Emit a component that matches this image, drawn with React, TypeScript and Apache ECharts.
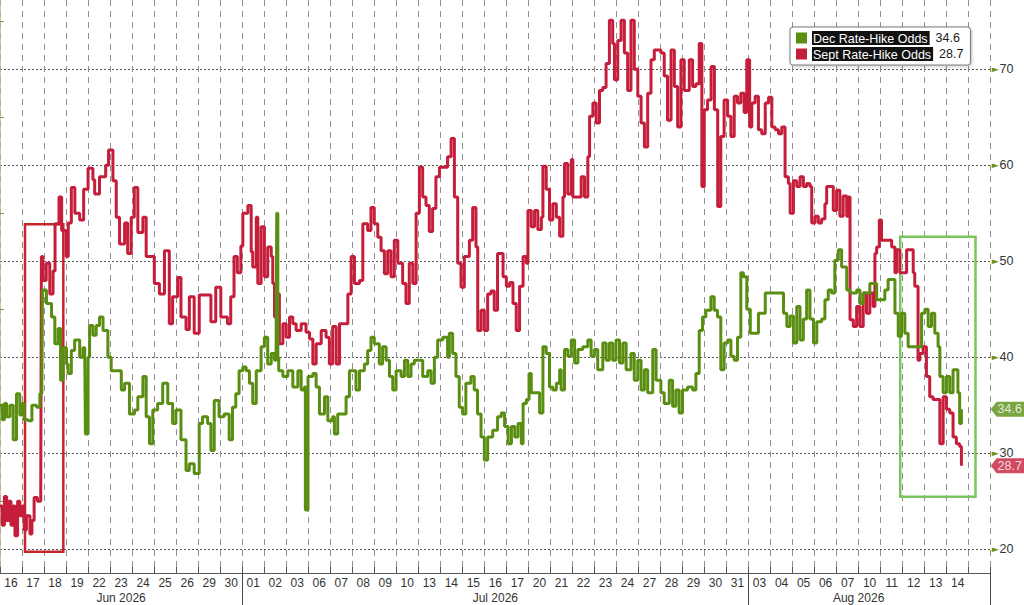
import React, { useEffect, useRef } from 'react';
import * as echarts from 'echarts';

// ---------- data ----------
const dayLabels = ['16','17','18','19','22','23','24','25','26','29','30','01','02','03','06','07','08','09','10','13','14','15','16','17','20','21','22','23','24','27','28','29','30','31','03','04','05','06','07','10','11','12','13','14',''];
const monthLabels: [number, string][] = [[5.5, 'Jun 2026'], [22.5, 'Jul 2026'], [39, 'Aug 2026']];
const monthStarts = [11, 34];

const DEC_NAME = 'Dec Rate-Hike Odds';
const SEPT_NAME = 'Sept Rate-Hike Odds';

// [trading-day position, odds %]
const septOdds: [number, number][] = [
[0,24.5],[0.1,22.5],[0.2,25.5],[0.3,23],[0.4,25],[0.5,22.5],[0.6,24.5],[0.68,21.4],[0.8,25],[0.9,23.5],[1.0,24.5],[1.1,22],[1.2,23.5],[1.36,21.6],[1.45,23],[1.55,25.4],[1.7,25],[1.85,25.5],[1.88,50.5],[1.95,48],[2.1,49.8],[2.26,46.6],[2.41,49],[2.5,53.9],[2.68,56.7],[2.8,53.2],[3.0,50.5],[3.1,54],[3.24,57.7],[3.4,55],[3.62,54.3],[3.8,57.5],[4.0,59.7],[4.22,58.5],[4.3,57],[4.52,58.8],[4.8,60],[4.93,61.6],[5.13,58.4],[5.28,54.6],[5.43,51.8],[5.66,54],[5.8,50.8],[5.96,54.6],[6.1,57.7],[6.26,53],[6.49,54.6],[6.64,50.5],[6.86,50.5],[7.01,47.7],[7.24,46.6],[7.47,51.1],[7.69,43.5],[7.84,46.3],[8.07,48.3],[8.22,44.2],[8.45,42.9],[8.6,46.3],[8.82,42.5],[9.05,46.5],[9.35,46.5],[9.58,43.7],[9.8,47.3],[10.03,44.2],[10.33,43.5],[10.48,46.3],[10.63,50.5],[10.78,48.8],[10.94,51.6],[11.03,55],[11.26,55.8],[11.41,51],[11.48,49.4],[11.64,54.6],[11.71,47.7],[11.86,53.6],[12.01,48.4],[12.16,51.5],[12.32,50.5],[12.39,47.7],[12.47,44.2],[12.62,46.6],[12.69,41.4],[12.85,43.5],[13.0,42.1],[13.15,44.2],[13.3,43.5],[13.45,42.8],[13.68,43.5],[13.9,42.6],[14.06,41.9],[14.21,39.3],[14.36,41.4],[14.59,42.8],[14.81,42.1],[14.96,39.3],[15.11,43.2],[15.27,39.3],[15.42,43.5],[15.64,43.5],[15.8,46.6],[15.95,50.5],[16.1,47.7],[16.33,48],[16.48,53.9],[16.7,53.2],[16.85,55.6],[17.0,53.9],[17.16,52.5],[17.31,51.1],[17.46,48.7],[17.61,51.1],[17.76,48.4],[17.91,52.2],[18.07,49.8],[18.29,47.7],[18.44,45.6],[18.59,49.8],[18.75,47.7],[18.9,55],[19.05,59.8],[19.2,56.7],[19.35,55.8],[19.5,53.1],[19.65,55.5],[19.8,58.8],[19.96,59.8],[20.18,59.8],[20.33,60.9],[20.49,62.8],[20.64,56.7],[20.79,49.8],[20.94,47.3],[21.09,50.5],[21.32,52.2],[21.47,55.6],[21.62,51.5],[21.7,42.8],[21.85,44.9],[22.0,42.8],[22.15,46.6],[22.3,46.9],[22.45,44.9],[22.6,50.8],[22.7,50.8],[22.85,48.4],[23.0,47.4],[23.15,47.8],[23.3,45.6],[23.45,42.8],[23.6,47.4],[23.76,50.5],[23.91,49.8],[23.98,55.3],[24.13,53.6],[24.28,55.3],[24.43,53.3],[24.59,54.6],[24.66,59.9],[24.81,57.5],[24.96,54.3],[25.11,56],[25.27,54.6],[25.42,52.6],[25.57,56.7],[25.64,60.2],[25.79,57],[25.95,60.6],[26.02,56.7],[26.25,56.7],[26.4,58.8],[26.55,56.7],[26.7,60.9],[26.78,65.1],[26.93,66.5],[27.08,64.4],[27.23,67.8],[27.38,68.1],[27.53,70.6],[27.68,75.1],[27.83,72.7],[27.91,68.9],[28.06,73],[28.21,75.1],[28.36,71.7],[28.51,67.8],[28.66,75.1],[28.81,70],[28.97,67.2],[29.12,64.4],[29.27,61.9],[29.42,67.5],[29.57,71],[29.72,72],[30.02,71.7],[30.17,69.3],[30.32,64.7],[30.48,72],[30.63,68.2],[30.78,64],[30.93,71],[31.08,67.8],[31.31,71],[31.46,68.2],[31.61,68.5],[31.76,72.7],[31.88,57.8],[31.99,65.8],[32.14,66.8],[32.3,70.3],[32.45,65.8],[32.6,55.7],[32.74,63],[32.89,66.8],[33.05,65.1],[33.2,63],[33.35,67.2],[33.5,66.5],[33.65,67.5],[33.8,65.5],[33.92,71],[34.05,64],[34.15,66.5],[34.3,67.2],[34.45,63.7],[34.6,63.3],[34.76,66.5],[34.91,67.1],[35.06,64],[35.21,63.7],[35.36,63.3],[35.51,64],[35.66,58.8],[35.81,58.1],[35.89,55],[36.04,58.4],[36.19,57.8],[36.34,58.8],[36.49,57.8],[36.64,58.1],[36.79,57.8],[36.87,54],[37.02,54.7],[37.17,54],[37.32,54.4],[37.47,56],[37.55,57.8],[37.7,57.8],[37.85,55.3],[38.0,57.4],[38.15,54.7],[38.3,56.8],[38.46,54.7],[38.53,56.7],[38.61,43.9],[38.76,43.2],[38.91,45.3],[39.06,43.2],[39.21,46.7],[39.36,44.6],[39.51,46.7],[39.66,45.3],[39.74,50.8],[39.82,51.5],[39.94,54.3],[40.04,52.2],[40.27,52.2],[40.5,51.5],[40.65,48.8],[40.72,51.2],[40.87,48.8],[41.02,48.8],[41.18,51.2],[41.33,51.2],[41.48,48.8],[41.55,47.4],[41.7,39.7],[41.78,40.4],[41.93,41.1],[42.08,38],[42.23,35.9],[42.38,35.6],[42.53,35.6],[42.69,31],[42.84,35.9],[42.99,34.6],[43.14,34.2],[43.29,31.7],[43.44,31],[43.59,30.7],[43.67,28.7]
];

const decOdds: [number, number][] = [
[0,35],[0.1,33.5],[0.2,35.2],[0.3,33.8],[0.45,35],[0.6,31.4],[0.75,36.2],[0.9,34],[1.0,35.2],[1.1,33.5],[1.28,33.4],[1.45,35],[1.66,34.8],[1.81,36.2],[1.9,36.5],[1.93,47],[2.11,45.6],[2.34,44.2],[2.49,41.4],[2.64,43],[2.75,37.6],[2.87,41],[3.02,39.3],[3.09,38.3],[3.24,40.7],[3.39,41.8],[3.62,40],[3.77,41],[3.85,40.5],[3.88,32],[3.96,32],[4.0,40],[4.07,43.3],[4.22,42.3],[4.37,43.3],[4.52,44.2],[4.68,42.8],[4.9,40],[5.05,38.6],[5.28,38.6],[5.51,36.6],[5.66,37.3],[5.88,34.1],[6.11,34.5],[6.26,35.9],[6.49,38],[6.64,33.8],[6.79,31],[6.94,34.5],[7.16,35.2],[7.39,37.3],[7.62,35.2],[7.84,33.1],[7.99,34.5],[8.22,31.4],[8.45,28.2],[8.6,28.9],[8.82,27.9],[9.05,33.1],[9.2,33.8],[9.43,33.1],[9.58,30.3],[9.73,35.5],[9.95,33.8],[10.18,34.1],[10.41,31.4],[10.56,34.8],[10.71,36.2],[10.86,38.6],[11.03,39],[11.18,38.6],[11.33,37.3],[11.48,35.2],[11.64,38.6],[11.86,41.1],[12.01,42.1],[12.16,39.3],[12.32,40.4],[12.47,39.7],[12.54,40],[12.57,55],[12.62,40],[12.66,38.6],[12.85,38],[13.07,38.6],[13.3,36.9],[13.53,38.6],[13.68,36.6],[13.83,36.9],[13.87,24.1],[13.95,24.1],[13.99,38],[14.21,38.3],[14.36,36.9],[14.51,34.1],[14.74,35.9],[14.89,33.4],[15.11,33.8],[15.19,32],[15.34,34.1],[15.57,34.1],[15.72,35.9],[15.87,38.6],[16.02,38.6],[16.17,36.6],[16.33,38.6],[16.55,39.3],[16.7,40.7],[16.85,42.1],[17.0,41.4],[17.23,39.3],[17.38,41.1],[17.54,39.7],[17.69,38],[17.84,36.6],[17.99,38.6],[18.22,38],[18.37,39.7],[18.52,38],[18.67,39.3],[18.82,39.7],[19.05,39.7],[19.2,38],[19.43,38.6],[19.58,37.3],[19.73,40],[19.88,41.8],[20.11,42.1],[20.33,40],[20.41,42.5],[20.56,40.4],[20.71,38],[20.86,34.8],[21.01,34.1],[21.16,37.3],[21.39,38],[21.54,36.6],[21.69,34.1],[21.85,31.7],[22.0,29.3],[22.15,31.7],[22.38,32.4],[22.6,33.8],[22.77,34.2],[22.92,32.8],[23.08,31],[23.23,32.8],[23.38,31.7],[23.53,33.1],[23.68,31],[23.76,35.2],[23.91,35.6],[24.03,38.3],[24.13,36.3],[24.36,36.3],[24.51,34.2],[24.66,41.1],[24.81,40.4],[24.96,36.9],[25.11,36.6],[25.27,37.3],[25.42,38.7],[25.49,36.6],[25.64,40.8],[25.79,40.1],[25.95,41.8],[26.1,39.4],[26.25,40.8],[26.47,41.1],[26.7,41.8],[26.85,40.1],[27.0,40.8],[27.15,38.7],[27.38,41.5],[27.53,39.7],[27.68,41.5],[27.83,39.7],[27.98,41.8],[28.14,39.4],[28.29,41.5],[28.44,38.7],[28.66,40.4],[28.81,37.6],[28.97,39.7],[29.12,36.6],[29.27,38.7],[29.42,36.3],[29.65,40.8],[29.8,37.6],[30.02,36.3],[30.17,35.2],[30.4,37.6],[30.55,34.9],[30.7,36.6],[30.85,34.2],[31.0,36.6],[31.23,36.9],[31.46,36.6],[31.61,38.3],[31.76,42.8],[31.91,44.2],[32.06,44.9],[32.29,46.3],[32.44,44.9],[32.59,44.2],[32.74,38.7],[32.89,41.5],[33.05,41.8],[33.2,40.1],[33.35,39.7],[33.5,42.1],[33.65,48.8],[33.77,48.4],[33.92,45],[34.08,42.5],[34.3,42.5],[34.45,44.6],[34.6,44.6],[34.76,46.7],[34.98,46.7],[35.21,46.7],[35.44,46.7],[35.59,44.6],[35.74,43.2],[35.89,44.3],[36.04,41.5],[36.19,45.3],[36.34,41.8],[36.49,44],[36.64,47],[36.79,44],[36.95,41.5],[37.1,43.7],[37.32,44],[37.47,46],[37.62,47],[37.77,46.7],[37.92,50.1],[38.08,51.2],[38.23,49.4],[38.38,49.4],[38.46,47],[38.61,46.7],[38.76,46.7],[38.91,47],[39.06,45.6],[39.21,46.7],[39.36,46.7],[39.51,47.7],[39.66,47.7],[39.82,46],[39.97,46],[40.19,47],[40.34,48.1],[40.5,48.1],[40.65,44.6],[40.8,42.2],[40.95,44.6],[41.1,42.5],[41.25,41.1],[41.48,41.1],[41.63,41.1],[41.86,44.6],[42.01,45],[42.16,43.2],[42.31,44.6],[42.46,42.5],[42.61,41.1],[42.69,38],[42.84,36.3],[42.99,38],[43.14,36.3],[43.29,38.7],[43.44,38.7],[43.51,36.3],[43.59,33.1],[43.67,34.6]
];

// annotation boxes: [x1, yTop, x2, yBottom] in axis units
const redBox = [1.136, 53.85, 2.876, 19.75];
const greenBox = [40.89, 52.56, 44.31, 25.48];

// axis ranges
const X_MAX = 45;
const Y_MIN = 17.53;
const Y_MAX = 77.22;

// ---------- styles ----------
const FONT = '"Liberation Sans", Arial, sans-serif';
const GREEN = '#5a8e12';
const RED = '#c41e3a';
const RED_BOX = '#c4262c';
const GREEN_BOX = '#7cc45c';

export default function App() {
  const ref = useRef<HTMLDivElement>(null);

  useEffect(() => {
    if (!ref.current) return;
    const chart = echarts.init(ref.current, undefined, { renderer: 'svg' });

    const decLast = decOdds[decOdds.length - 1][1];
    const septLast = septOdds[septOdds.length - 1][1];
    const lastOf: Record<string, number> = { [DEC_NAME]: decLast, [SEPT_NAME]: septLast };

    const option: any = {
      animation: false,
      backgroundColor: '#ffffff',
      grid: { left: 0, right: 33.3, top: 0, bottom: 32, outerBoundsMode: 'none', containLabel: false },
      legend: {
        data: [DEC_NAME, SEPT_NAME],
        orient: 'vertical',
        left: 790,
        top: 27,
        padding: [4, 7, 4, 6],
        itemGap: 2,
        itemWidth: 11,
        itemHeight: 11,
        icon: 'rect',
        selectedMode: false,
        backgroundColor: '#ffffff',
        borderColor: '#7a7a7a',
        borderWidth: 1,
        borderRadius: 3,
        shadowBlur: 3,
        shadowColor: 'rgba(0,0,0,0.25)',
        shadowOffsetX: 1,
        shadowOffsetY: 1,
        formatter: (name: string) => `{n|${name}}{v|${lastOf[name].toFixed(1)}}`,
        textStyle: {
          fontFamily: FONT,
          fontSize: 12.5,
          rich: {
            n: { backgroundColor: '#111111', color: '#ffffff', fontSize: 12.5, fontFamily: FONT, padding: [1, 2, 0, 1] },
            v: { color: '#222222', fontSize: 12.5, fontFamily: FONT, padding: [0, 0, 0, 6] },
          },
        },
      },
      xAxis: [
        {
          type: 'category',
          data: dayLabels,
          boundaryGap: true,
          position: 'bottom',
          axisLine: { show: true, lineStyle: { color: '#555555', width: 1 } },
          axisTick: { show: true, inside: true, length: 6, interval: 0, lineStyle: { color: '#555555' } },
          axisLabel: { interval: 0, margin: 4, color: '#333333', fontSize: 12, fontFamily: FONT },
          splitLine: { show: true, interval: 0, lineStyle: { color: '#8f8f8f', type: [6, 5], width: 1 } },
        },
        { type: 'value', min: 0, max: X_MAX, show: false },
        {
          type: 'value',
          min: 0,
          max: X_MAX,
          interval: 0.5,
          position: 'bottom',
          axisLine: { show: false },
          axisTick: { show: false },
          splitLine: { show: false },
          axisLabel: {
            margin: 19,
            color: '#333333',
            fontSize: 12,
            fontFamily: FONT,
            formatter: (v: number) => {
              const m = monthLabels.find((e) => Math.abs(e[0] - v) < 1e-6);
              return m ? m[1] : '';
            },
          },
        },
        {
          type: 'category',
          data: dayLabels,
          boundaryGap: true,
          position: 'bottom',
          axisLine: { show: false },
          axisLabel: { show: false },
          splitLine: { show: false },
          axisTick: {
            show: true,
            length: 34,
            interval: (i: number) => monthStarts.indexOf(i) >= 0,
            lineStyle: { color: '#444444', width: 1 },
          },
        },
      ],
      yAxis: [
        {
          type: 'value',
          position: 'right',
          min: Y_MIN,
          max: Y_MAX,
          minInterval: 10,
          maxInterval: 10,
          splitNumber: 6,
          axisLine: { show: true, lineStyle: { color: '#b9bb8f', width: 1.5 } },
          axisTick: { show: false },
          minorTick: { show: true, splitNumber: 2, length: 4, lineStyle: { color: '#8c9060' } },
          axisLabel: {
            show: true,
            margin: 1,
            showMinLabel: false,
            showMaxLabel: false,
            formatter: (v: number) => (Math.abs(v % 10) < 1e-6 ? `{a|►}{b|${v}}` : ''),
            rich: {
              a: { color: '#6f8d1c', fontSize: 9, fontFamily: 'DejaVu Sans' },
              b: { color: '#333333', fontSize: 12.5, fontFamily: FONT, padding: [0, 0, 0, 1] },
            },
          },
          splitLine: {
            show: true,
            showMinLine: false,
            showMaxLine: false,
            lineStyle: { color: '#555555', type: [2, 2], width: 1 },
          },
        },
      ],
      series: [
        {
          name: SEPT_NAME,
          type: 'line',
          xAxisIndex: 1,
          yAxisIndex: 0,
          data: septOdds,
          step: 'end',
          showSymbol: false,
          silent: true,
          z: 3,
          itemStyle: { color: RED },
          lineStyle: { color: RED, width: 3 },
        },
        {
          name: DEC_NAME,
          type: 'line',
          xAxisIndex: 1,
          yAxisIndex: 0,
          data: decOdds,
          step: 'end',
          showSymbol: false,
          silent: true,
          z: 4,
          itemStyle: { color: GREEN },
          lineStyle: { color: GREEN, width: 3 },
        },
        {
          name: 'boxes',
          type: 'line',
          xAxisIndex: 1,
          yAxisIndex: 0,
          data: [],
          silent: true,
          z: 5,
          markArea: {
            silent: true,
            data: [
              [
                { xAxis: redBox[0], yAxis: redBox[1], itemStyle: { color: 'rgba(0,0,0,0)', borderColor: RED_BOX, borderWidth: 2.5 } },
                { xAxis: redBox[2], yAxis: redBox[3] },
              ],
              [
                { xAxis: greenBox[0], yAxis: greenBox[1], itemStyle: { color: 'rgba(0,0,0,0)', borderColor: GREEN_BOX, borderWidth: 2.5 } },
                { xAxis: greenBox[2], yAxis: greenBox[3] },
              ],
            ],
          },
        },
        {
          name: 'tags',
          type: 'scatter',
          xAxisIndex: 1,
          yAxisIndex: 0,
          clip: false,
          silent: true,
          z: 10,
          symbol: 'path://M0,7.5L6,0L36,0L36,15L6,15Z',
          symbolSize: [36, 15],
          symbolKeepAspect: false,
          symbolOffset: [18, 0],
          emphasis: { disabled: true },
          label: {
            show: true,
            position: 'inside',
            color: '#ffffff',
            fontSize: 12.5,
            fontFamily: FONT,
            offset: [1, 0],
            formatter: (p: any) => Number(p.value[1]).toFixed(1),
          },
          data: [
            { value: [X_MAX, decLast], itemStyle: { color: GREEN } },
            { value: [X_MAX, septLast], itemStyle: { color: RED } },
          ],
        },
      ],
    };

    chart.setOption(option);
    return () => chart.dispose();
  }, []);

  return (
    <div
      ref={ref}
      style={{ position: 'fixed', left: 0, top: 0, width: 1024, height: 605, background: '#ffffff' }}
    />
  );
}
